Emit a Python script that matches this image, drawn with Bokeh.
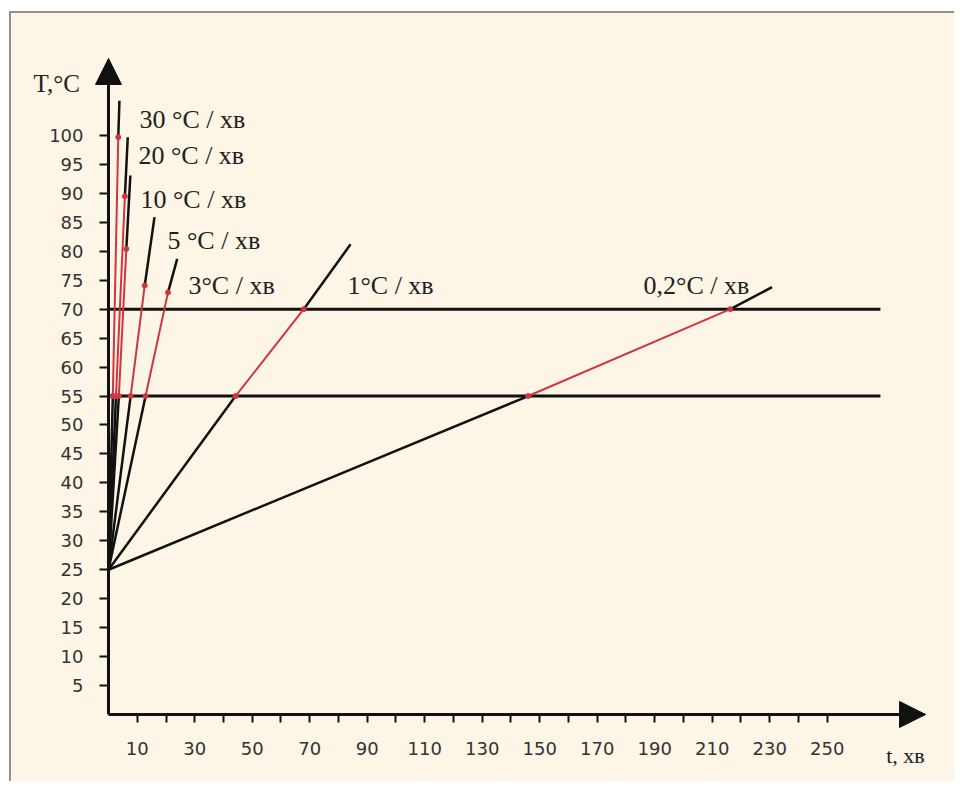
from bokeh.plotting import figure
from bokeh.models import FixedTicker, Label, Arrow, NormalHead
from bokeh.embed import file_html
from bokeh.resources import INLINE

# ---- data ----
rate_labels = ["30 °C / хв", "20 °C / хв", "10 °C / хв", "5 °C / хв",
               "3°C / хв", "1°C / хв", "0,2°C / хв"]
t0, T0 = 0, 25                       # common start point (t, T)
t_at_55 = [1.5, 2.6, 3.6, 7.7, 12.9, 44.2, 146.0]
t_red_end = [3.4, 5.7, 6.2, 12.6, 20.7, 67.9, 216.3]
T_red_end = [99.7, 89.5, 80.4, 74.1, 72.9, 70.0, 70.0]
t_end = [3.8, 6.7, 7.6, 16.0, 23.9, 84.2, 230.8]
T_end = [106.0, 99.7, 93.1, 85.9, 78.7, 81.2, 73.8]
levels = [55, 70]
level_t_end = 268.5
x_ticks = list(range(10, 260, 10))
x_tick_labels = {t: (str(t) if (t // 10) % 2 == 1 else "") for t in x_ticks}
y_ticks = list(range(5, 105, 5))

# label anchors (left, baseline) in data coordinates
label_t = [10.8, 10.4, 11.1, 20.5, 27.8, 83.1, 186.1]
label_T = [102.8, 96.5, 88.9, 81.9, 74.1, 74.1, 74.1]

BG = "#fdf5e5"
RED = "#d0363f"
INK = "#111111"

p = figure(width=945, height=770, output_backend="svg", toolbar_location=None,
           x_range=(-33.74, 294.96), y_range=(-11.92, 121.07),
           min_border=0,
           background_fill_color=BG, border_fill_color=BG, outline_line_color=None)
p.styles = {"margin-left": "9px", "margin-top": "11px",
            "border-left": "2px solid #9d8d85", "border-top": "2px solid #9d8d85"}
p.grid.visible = False

for ax in (p.xaxis[0], p.yaxis[0]):
    ax.fixed_location = 0
    ax.axis_line_width = 3
    ax.axis_line_color = INK
    ax.major_tick_line_width = 2
    ax.major_tick_line_color = INK
    ax.minor_tick_line_color = None
    ax.major_tick_in = 0
    ax.major_label_text_font = "DejaVu Sans"
    ax.major_label_text_font_size = "18px"
    ax.major_label_text_color = "#333333"

p.xaxis.bounds = (0, 284)
p.yaxis.bounds = (0, 113)
p.xaxis.ticker = FixedTicker(ticks=x_ticks)
p.xaxis.major_label_overrides = x_tick_labels
p.xaxis.major_tick_out = 8
p.xaxis.major_label_standoff = 20
p.yaxis.ticker = FixedTicker(ticks=y_ticks)
p.yaxis.major_tick_out = 9
p.yaxis.major_label_standoff = 16

# horizontal level lines
p.segment(x0=[0] * len(levels), y0=levels, x1=[level_t_end] * len(levels), y1=levels,
          line_color=INK, line_width=3)

n = len(rate_labels)
# black parts: start -> 55 crossing, red end -> top
p.segment(x0=[t0] * n, y0=[T0] * n, x1=t_at_55, y1=[55] * n, line_color=INK, line_width=2.5)
p.segment(x0=t_red_end, y0=T_red_end, x1=t_end, y1=T_end, line_color=INK, line_width=2.5)
# red parts
p.segment(x0=t_at_55, y0=[55] * n, x1=t_red_end, y1=T_red_end, line_color=RED, line_width=2)
p.scatter(x=t_at_55 + t_red_end, y=[55] * n + T_red_end, size=5, color=RED)

# axis arrowheads
p.add_layout(Arrow(end=NormalHead(size=26, fill_color=INK, line_color=INK),
                   x_start=270, y_start=0, x_end=284.2, y_end=0, line_width=0, line_color=None))
p.add_layout(Arrow(end=NormalHead(size=26, fill_color=INK, line_color=INK),
                   x_start=0, y_start=105, x_end=0, y_end=113.3, line_width=0, line_color=None))

for txt, lt, lT in zip(rate_labels, label_t, label_T):
    p.add_layout(Label(x=lt, y=lT, text=txt, text_font="Liberation Serif",
                       text_font_size="26px", text_color="#222222",
                       text_align="left", text_baseline="alphabetic"))

p.add_layout(Label(x=-26.1, y=109.0, text="T,°C", text_font="Liberation Serif",
                   text_font_size="25px", text_color="#222222",
                   text_align="left", text_baseline="alphabetic"))
p.add_layout(Label(x=270.5, y=-7.1, text="t, хв", text_font="Liberation Serif",
                   text_font_size="22px", text_color="#222222",
                   text_align="left", text_baseline="alphabetic"))

open("out.html", "w").write(file_html(p, INLINE))
